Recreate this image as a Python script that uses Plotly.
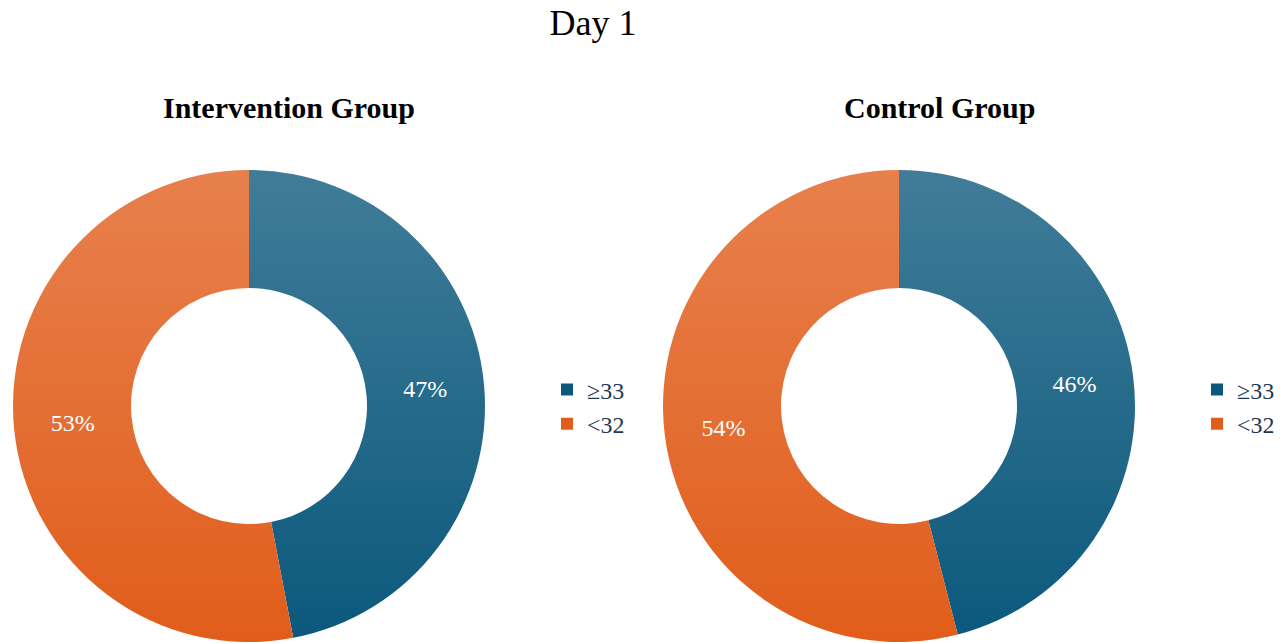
import base64
import plotly.graph_objects as go

W, H = 1281, 643

categories = ["≥33", "<32"]
intervention_pct = [47, 53]
control_pct = [46, 54]
panel_titles = ["Intervention Group", "Control Group"]
chart_title = "Day 1"

slice_colors = ["#0b587c", "#e15d1b"]
serif = "Liberation Serif, Times New Roman, serif"

# soft top-to-bottom light sheen laid over each ring
sheen_svg = (
    '<svg xmlns="http://www.w3.org/2000/svg" width="10" height="100" '
    'viewBox="0 0 10 100" preserveAspectRatio="none">'
    '<defs><linearGradient id="g" x1="0" y1="0" x2="0" y2="1">'
    '<stop offset="0" stop-color="#ffffff" stop-opacity="0.22"/>'
    '<stop offset="1" stop-color="#ffffff" stop-opacity="0"/>'
    '</linearGradient></defs>'
    '<rect width="10" height="100" fill="url(#g)"/></svg>'
)
sheen_src = "data:image/svg+xml;base64," + base64.b64encode(sheen_svg.encode()).decode()

cx_px = [249, 899]
cy_px = 406
r_px = 236


def px_x(v):
    return v / W


def px_y(v):
    return 1 - v / H


label_font = dict(family=serif, size=24, color="white")

fig = go.Figure()
for i, (vals, leg) in enumerate(zip([intervention_pct, control_pct], ["legend", "legend2"])):
    # pies merge legend entries by label, so each panel gets its own label keys
    labels = [c + "\u200b" * i for c in categories]
    fig.add_trace(go.Pie(
        labels=labels,
        values=vals,
        hole=0.5,
        sort=False,
        direction="clockwise",
        rotation=0,
        marker=dict(colors=slice_colors, line=dict(width=0)),
        textinfo="percent",
        texttemplate="%{percent:.0%}",
        textposition="inside",
        insidetextorientation="horizontal",
        textfont=label_font,
        insidetextfont=label_font,
        domain=dict(x=[px_x(cx_px[i] - r_px), px_x(cx_px[i] + r_px)],
                    y=[px_y(cy_px + r_px), px_y(cy_px - r_px)]),
        legend=leg,
        hoverinfo="label+percent",
    ))

legend_style = dict(
    font=dict(family=serif, size=24, color="#1f3654"),
    bgcolor="rgba(0,0,0,0)",
    xanchor="left",
    yanchor="middle",
    y=px_y(407),
    itemwidth=30,
    tracegroupgap=0,
)

annotations = []
for t, x in zip(panel_titles, [289, 939]):
    annotations.append(dict(
        text=f"<b>{t}</b>", x=px_x(x), y=px_y(108), xref="paper", yref="paper",
        xanchor="center", yanchor="middle", showarrow=False,
        font=dict(family=serif, size=30, color="black"),
    ))

images = []
for cx in cx_px:
    images.append(dict(
        source=sheen_src, xref="paper", yref="paper",
        x=px_x(cx - r_px - 2), y=px_y(cy_px - r_px - 2),
        sizex=(2 * r_px + 4) / W, sizey=(2 * r_px + 4) / H,
        xanchor="left", yanchor="top", sizing="stretch", layer="above",
    ))

fig.update_layout(
    width=W, height=H,
    margin=dict(l=0, r=0, t=0, b=0),
    paper_bgcolor="white",
    plot_bgcolor="white",
    title=dict(text=chart_title, x=px_x(593), y=px_y(22), xanchor="center",
               yanchor="middle", font=dict(family=serif, size=36, color="black")),
    legend=dict(x=px_x(547), **legend_style),
    legend2=dict(x=px_x(1197), **legend_style),
    annotations=annotations,
    images=images,
    showlegend=True,
)

fig.write_html("out.html")
